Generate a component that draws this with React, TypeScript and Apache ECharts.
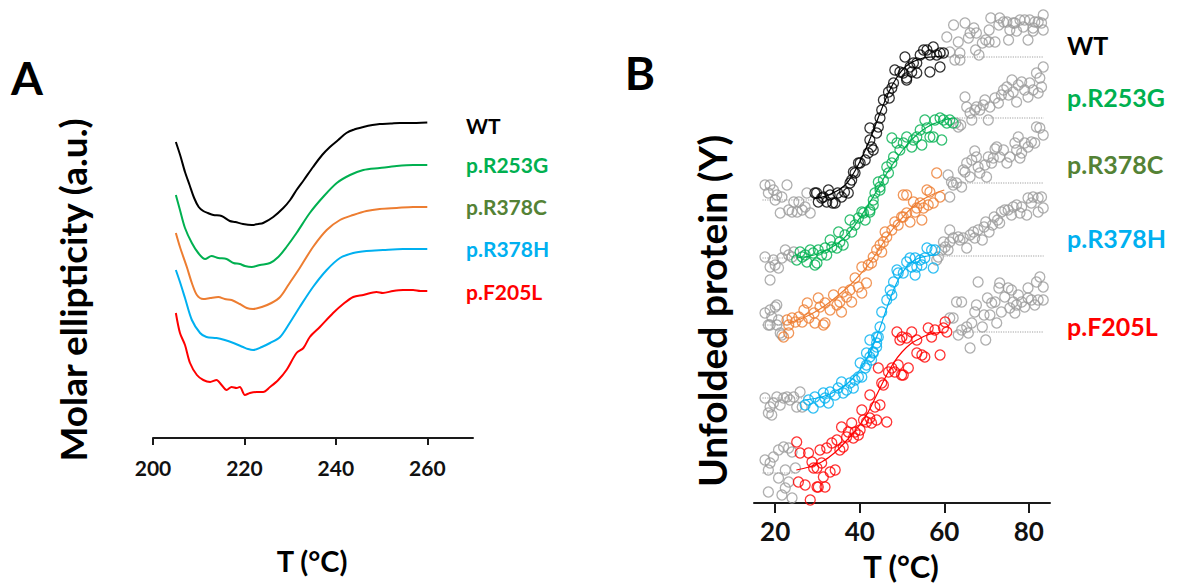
import React, { useEffect, useRef } from "react";
import * as echarts from "echarts";

const FONT = "Lato, 'Open Sans', sans-serif";

const VARIANTS = ["WT", "p.R253G", "p.R378C", "p.R378H", "p.F205L"];
const LINE_COLORS = ["#000000", "#00B050", "#ED7D31", "#00B0F0", "#FF0000"];
const LABEL_COLORS = ["#000000", "#00B050", "#548235", "#00B0F0", "#FF0000"];
const GRAY = "#9b9b9b";

const CD_X_TICKS = [200, 220, 240, 260];
const TM_X_TICKS = [20, 40, 60, 80];

// ---------- Panel A: CD spectra (wavelength, molar ellipticity a.u., offset per variant)
const cdWT = [[205,29.6],[206,28.2],[207,26.6],[208,25.3],[209,24.0],[210,23.1],[211,22.7],[212,22.5],[213.2,22.3],[215,22.2],[216.8,21.7],[218,21.6],[219.7,21.4],[221.6,21.3],[223,21.4],[224.1,21.5],[226.3,22.1],[228.5,23.0],[230,23.8],[231.4,24.8],[233,25.8],[235,27.1],[237,28.3],[238.7,29.1],[240.5,29.8],[242.3,30.5],[244,30.85],[246,31.1],[248,31.3],[249.6,31.4],[252,31.45],[254,31.5],[256,31.5],[260,31.55]];
const cdR253G = [[205,24.3],[205.9,22.8],[207,21.0],[208.5,19.5],[209.9,18.5],[211.4,17.9],[212.8,18.2],[214.3,18.0],[216.1,17.9],[217.6,17.5],[219,17.4],[220.1,17.2],[221.6,17.1],[223.4,17.3],[225.6,17.5],[227.4,18.1],[229.2,19.1],[231.4,20.5],[234.3,22.5],[237.2,24.1],[240.2,25.5],[243.1,26.3],[246,26.8],[249.6,27.0],[253.3,27.2],[256.9,27.3],[260,27.3]];
const cdR378C = [[205,20.5],[205.9,19.1],[207.4,17.1],[208.5,15.5],[209.6,14.3],[211,13.9],[212.5,14.0],[214.3,14.1],[215.7,13.9],[217.2,13.8],[219,13.4],[220.5,13.0],[221.9,12.9],[223.8,13.1],[225.9,13.5],[227.8,14.1],[229.6,15.3],[232.1,17.0],[235,19.1],[238,20.8],[240.9,21.8],[243.8,22.3],[246.7,22.7],[249.6,22.9],[253.3,23.0],[256.9,23.1],[260,23.1]];
const cdR378H = [[205,16.8],[205.9,15.6],[207,14.0],[208.5,11.8],[210.3,10.5],[211.7,10.1],[213.9,10.0],[215.7,9.8],[217.6,9.5],[219.7,9.1],[220.8,8.9],[221.9,8.8],[223.8,9.1],[225.6,9.5],[227.8,10.1],[229.9,11.5],[232.1,13.1],[235,15.1],[238,16.8],[240.9,18.0],[243.8,18.5],[246.7,18.7],[250.3,18.8],[254.7,18.9],[260,18.9]];
const cdF205L = [[205,12.5],[205.9,10.5],[207,9.3],[208.1,7.5],[209.6,6.3],[211,5.8],[212.5,5.6],[213.9,5.8],[215,5.3],[216.1,4.8],[217.2,5.1],[218.3,5.0],[219,5.1],[220.1,4.3],[221.2,4.5],[222.7,4.6],[224.1,4.6],[225.6,5.1],[227.4,5.8],[229.2,6.8],[231.4,8.5],[232.9,9.0],[234.3,10.1],[236.5,11.1],[239.4,12.5],[241.6,13.4],[243.8,14.1],[246,14.3],[248.9,14.6],[250.3,14.5],[252.5,14.7],[254.7,14.8],[256.9,14.8],[258.5,14.7],[260,14.7]];

// ---------- Panel B: thermal unfolding (T, unfolded signal a.u., offset per variant)
const tmWT = [[29.8,31.0],[31.4,30.6],[32.6,31.3],[33.6,30.0],[34.8,31.0],[36.4,31.1],[37.7,32.0],[38.9,33.0],[40.1,34.0],[41.3,34.3],[42.0,35.0],[43.2,35.3],[42.4,36.3],[44.0,37.0],[44.8,38.5],[44.4,37.6],[45.6,40.3],[46.8,41.1],[47.6,41.5],[48.0,42.0],[48.3,43.3],[49.5,43.1],[50.3,43.0],[51.1,42.3],[51.9,43.6],[52.7,44.0],[53.5,44.0],[54.3,44.8],[55.1,45.3],[55.9,45.3],[56.6,44.8],[57.4,45.6],[58.2,44.8],[59.0,45.0],[59.8,45.0],[50.7,44.6],[56.6,43.1],[59.0,43.6],[42.4,37.5],[42.8,35.6],[39.7,34.0],[38.5,33.1],[29.4,31.0],[31.0,30.5],[33.0,30.8],[34.2,30.0],[35.7,30.6],[37.3,31.0],[38.1,32.3],[32.2,30.1],[30.2,30.1],[51.1,42.5],[52.3,43.1],[53.5,43.0],[45.2,39.3],[47.0,40.5]];
const tmWTGray = [[17.6,31.8],[18.8,31.8],[19.6,31.3],[18.4,31.0],[20.4,30.8],[21.6,30.6],[22.8,31.8],[21.2,29.0],[23.2,29.3],[24.0,29.1],[25.2,29.1],[26.4,29.3],[27.1,29.6],[27.5,31.0],[28.3,29.0],[25.6,30.1],[24.4,30.1],[20.0,30.3],[60.6,46.6],[62.2,47.8],[63.3,46.1],[62.5,44.3],[63.7,44.3],[64.9,48.0],[66.1,47.0],[65.7,46.5],[67.0,47.5],[67.4,45.3],[68.2,44.8],[69.0,46.0],[69.8,46.3],[70.6,47.3],[70.6,46.1],[71.0,48.5],[72.0,46.1],[72.9,47.8],[73.1,48.5],[74.0,48.1],[74.8,48.1],[75.2,46.3],[75.5,47.3],[76.7,48.0],[77.1,47.2],[77.9,48.3],[78.7,47.6],[79.0,48.3],[79.8,46.3],[80.2,48.3],[81.0,47.5],[81.4,48.1],[82.2,48.1],[83.0,48.0],[83.4,48.8],[83.4,47.3],[81.0,47.2],[63.7,45.0],[61.3,45.1],[67.6,47.0],[76.3,48.0]];
const tmWTFit = [[29,30.4],[32,30.7],[35,31.3],[37,32.0],[39,33.3],[41,35.0],[43,37.0],[45,39.2],[47,41.2],[49,42.7],[51,43.7],[53,44.2],[55,44.5],[57,44.6],[60,44.7]];

const tmR253G = [[25.1,24.3],[25.9,25.1],[27.1,24.8],[27.5,24.1],[28.3,25.3],[29.4,23.8],[29.0,25.0],[30.2,25.3],[31.0,24.8],[31.8,25.5],[32.2,24.8],[33.0,26.3],[33.4,25.6],[34.6,25.5],[35.0,27.1],[35.3,26.1],[36.1,25.8],[36.5,26.8],[37.7,28.3],[38.1,27.1],[38.9,27.8],[39.7,28.5],[40.5,29.1],[41.3,28.3],[42.4,29.1],[43.2,29.8],[43.6,31.0],[44.8,31.6],[45.6,32.3],[46.8,33.0],[43.2,30.3],[44.4,32.1],[44.8,31.3],[46.4,33.6],[47.6,34.0],[48.0,34.6],[47.6,36.5],[48.8,36.0],[49.5,35.3],[50.3,36.0],[51.1,36.6],[52.3,35.6],[52.7,36.3],[53.5,36.6],[54.7,35.8],[54.3,37.3],[55.4,38.3],[55.9,37.5],[56.6,36.6],[57.4,36.6],[57.8,38.3],[59.0,38.5],[59.8,38.3],[60.6,38.0],[61.3,38.3],[62.1,38.0],[59.4,36.3],[40.9,29.0],[42.4,29.3],[26.4,24.6],[29.9,24.0]];
const tmR253GGray = [[17.6,24.6],[18.8,23.6],[20.0,23.8],[20.8,23.5],[19.6,24.3],[21.6,24.5],[22.4,25.3],[23.2,24.8],[24.0,24.6],[24.4,25.1],[18.8,22.3],[63.9,37.8],[63.3,37.6],[64.9,40.6],[65.3,39.6],[66.5,38.3],[66.1,39.0],[67.2,39.3],[68.4,39.3],[69.2,39.8],[69.6,40.3],[70.4,38.3],[70.8,39.6],[72.0,40.5],[72.8,40.0],[73.5,40.8],[74.0,41.3],[74.8,41.6],[75.2,40.8],[76.0,42.3],[76.3,41.1],[77.1,40.1],[77.5,41.8],[78.3,42.1],[79.0,41.3],[79.8,40.6],[80.2,42.0],[81.0,41.3],[81.8,43.0],[82.6,42.5],[83.0,41.6],[83.4,43.6],[82.2,41.0],[67.6,39.6],[62.7,38.0]];
const tmR253GFit = [[25,24.5],[30,24.9],[35,26.0],[38,27.3],[40,28.5],[42,29.8],[44,31.2],[46,32.7],[48,34.0],[50,35.2],[52,36.2],[54,37.0],[56,37.6],[58,38.0],[60,38.3],[62,38.5]];

const tmR378C = [[22.8,18.3],[23.2,17.8],[24.0,18.5],[24.8,18.1],[25.6,18.6],[26.4,18.1],[26.8,19.3],[27.6,20.0],[28.0,18.5],[29.2,19.0],[29.4,18.0],[30.2,20.5],[30.6,19.6],[31.8,20.0],[31.8,18.0],[33.0,19.3],[33.8,20.8],[34.6,19.8],[35.3,20.1],[35.7,19.1],[36.1,21.1],[36.9,20.6],[37.7,21.3],[38.1,20.1],[38.9,22.5],[39.7,21.6],[40.5,21.0],[40.5,23.6],[41.6,22.0],[42.0,23.8],[42.8,24.0],[43.2,24.6],[44.0,25.3],[45.2,25.1],[44.8,25.8],[45.6,26.1],[46.0,27.1],[46.4,26.6],[47.6,27.3],[48.3,28.1],[49.1,27.8],[49.9,28.6],[50.3,30.8],[23.2,17.0],[22.0,16.6],[31.4,17.8],[51.1,30.8],[52.7,30.1],[54.3,30.0],[55.9,31.3],[56.6,31.1],[56.2,29.8],[57.4,30.0],[59.0,30.6],[58.2,33.0],[50.3,28.6],[51.9,28.1],[53.1,29.1],[54.7,28.3],[55.1,29.5],[51.1,29.0],[53.5,29.5]];
const tmR378CGray = [[17.6,19.0],[18.8,19.3],[20.0,19.6],[19.2,18.6],[18.8,17.8],[20.4,17.8],[20.8,18.3],[21.2,17.0],[20.4,19.8],[18.4,17.8],[21.6,16.8],[60.9,32.8],[61.7,32.1],[61.3,30.6],[62.1,31.8],[62.9,32.0],[64.1,31.6],[64.9,33.1],[66.1,32.6],[68.4,33.0],[70.0,32.6],[64.5,33.3],[65.3,34.0],[66.5,34.3],[67.6,34.6],[68.0,33.6],[69.6,33.8],[70.4,34.6],[71.6,34.5],[71.2,34.0],[72.4,35.6],[73.1,34.6],[74.0,35.3],[74.8,34.0],[75.5,34.6],[76.7,36.0],[77.1,35.3],[77.5,36.6],[78.3,35.0],[79.0,36.0],[79.8,35.6],[80.6,36.1],[81.4,36.0],[81.8,37.6],[82.6,37.5],[83.4,36.8],[77.9,34.5],[67.2,35.2],[72.0,35.4]];
const tmR378CFit = [[23,18.0],[26,18.4],[29,19.0],[32,19.8],[35,20.8],[38,21.9],[40,22.8],[42,23.8],[44,25.0],[46,26.3],[48,27.5],[50,28.5],[52,29.4],[54,30.1],[56,30.6],[58,31.0],[60,31.3]];

const tmR378H = [[27.1,9.8],[27.9,10.3],[29.0,9.5],[29.4,10.6],[30.6,10.1],[31.4,11.0],[31.8,10.5],[32.6,10.0],[33.0,11.1],[34.2,10.8],[34.9,11.5],[35.7,12.1],[36.1,11.0],[36.9,11.3],[37.7,12.0],[38.5,11.5],[38.9,12.3],[39.7,12.6],[40.5,12.6],[40.1,14.0],[41.3,13.5],[41.6,13.8],[42.4,14.6],[42.8,14.3],[43.2,15.1],[44.0,16.0],[44.4,16.6],[50.3,23.0],[51.1,24.1],[51.9,24.5],[52.3,23.6],[53.1,24.5],[53.5,23.6],[54.3,24.3],[54.7,23.8],[55.4,24.5],[55.9,25.5],[57.0,25.3],[57.4,23.5],[53.1,22.8],[57.8,25.3],[41.6,15.0],[42.4,16.3],[44.0,16.6],[44.8,17.6],[45.2,19.1],[46.4,20.3],[47.2,21.3],[48.0,22.1],[49.1,23.0],[48.8,23.3],[47.6,20.8],[44.0,15.6],[43.2,15.0]];
const tmR378HGray = [[17.6,10.5],[18.8,9.6],[18.4,9.0],[19.6,10.0],[20.4,10.6],[21.2,9.8],[22.0,10.5],[22.8,10.6],[23.5,10.3],[24.4,10.6],[25.1,9.6],[25.9,11.1],[19.2,8.8],[26.4,9.6],[58.6,24.6],[58.2,24.3],[59.4,25.3],[59.8,26.1],[60.9,25.3],[61.3,26.1],[61.3,27.3],[62.1,26.5],[63.3,26.6],[63.7,26.3],[64.5,26.5],[65.3,25.5],[66.1,26.8],[66.9,27.1],[67.2,26.5],[68.0,27.3],[69.0,26.3],[69.4,27.6],[69.8,28.1],[70.6,27.1],[71.4,27.8],[71.8,28.6],[72.6,28.3],[73.1,28.0],[73.5,29.1],[74.3,29.3],[75.1,29.3],[75.9,28.8],[76.3,29.6],[77.1,29.8],[77.9,29.0],[78.3,29.6],[79.5,28.8],[79.8,30.5],[80.6,30.0],[81.0,30.6],[82.2,30.5],[82.2,29.1],[83.0,30.6],[83.4,29.5],[60.2,25.6]];
const tmR378HFit = [[27,10.3],[30,10.5],[33,10.9],[36,11.6],[38,12.3],[40,13.3],[42,14.7],[44,16.6],[46,19.0],[48,21.3],[50,23.0],[52,24.0],[54,24.5],[56,24.7],[58,24.8]];

const tmF205L = [[25.1,6.1],[25.9,5.0],[25.5,2.1],[27.1,1.8],[27.9,5.0],[28.7,4.1],[29.1,3.5],[29.9,1.6],[29.9,3.5],[30.6,5.3],[31.0,4.0],[31.4,2.6],[31.8,1.6],[32.2,5.5],[33.0,3.1],[33.4,6.0],[34.2,3.3],[34.6,6.3],[35.3,5.3],[35.7,7.6],[36.1,5.6],[36.9,6.6],[37.3,7.1],[38.1,8.0],[38.5,6.5],[38.9,7.1],[39.7,6.8],[40.1,7.3],[40.5,9.3],[40.9,8.3],[41.6,8.1],[42.4,8.5],[42.4,10.8],[42.8,8.0],[43.6,9.6],[44.0,8.3],[44.8,9.8],[44.4,13.5],[45.2,12.0],[45.6,11.8],[46.4,8.1],[46.8,13.1],[47.6,13.5],[48.3,13.1],[49.1,13.8],[49.9,12.8],[49.5,16.3],[28.3,0.3],[48.8,17.1],[50.0,16.6],[51.1,16.5],[52.3,17.1],[53.5,16.3],[54.7,14.8],[55.4,14.6],[56.2,17.5],[57.0,16.6],[57.8,17.3],[59.0,14.8],[59.8,17.5],[60.2,18.1],[60.6,17.1],[51.5,13.5],[50.3,12.8],[53.5,15.0],[30.2,1.6]];
const tmF205LGray = [[17.6,4.3],[18.8,4.0],[18.4,3.3],[19.6,4.6],[20.8,5.3],[22.0,5.6],[23.2,5.5],[24.0,5.1],[22.4,3.3],[20.8,2.5],[24.8,3.5],[23.2,2.1],[22.4,1.5],[21.6,0.8],[18.4,1.1],[24.0,0.5],[61.3,18.5],[62.1,18.5],[62.9,20.1],[64.1,20.1],[63.3,16.8],[64.1,17.3],[65.3,17.6],[66.1,15.5],[65.7,17.0],[66.5,18.0],[67.2,19.1],[67.6,19.8],[68.0,22.1],[69.0,17.6],[69.4,18.8],[69.8,16.3],[70.2,20.5],[70.8,18.8],[71.2,20.0],[72.0,20.1],[72.4,18.0],[72.9,21.5],[73.1,22.0],[73.5,19.1],[74.3,20.6],[75.1,21.5],[75.5,19.5],[75.9,21.3],[76.3,20.1],[76.7,19.0],[77.1,19.8],[77.5,20.8],[78.3,20.1],[79.0,19.6],[79.8,21.5],[79.8,20.5],[80.6,20.3],[81.4,19.8],[81.8,22.1],[82.6,22.6],[82.2,20.3],[83.4,21.6],[83.4,20.3]];
const tmF205LFit = [[25,3.3],[28,3.6],[31,4.1],[34,5.0],[37,6.3],[40,7.8],[42,9.1],[44,10.8],[46,12.5],[48,14.0],[50,15.1],[52,15.9],[54,16.4],[56,16.8],[58,17.0],[60,17.1]];

// baselines (folded / unfolded levels) and their extents
const tmLowerLevel = [30.3, 24.5, 17.8, 10.5, 3.0];
const tmUpperLevel = [44.6, 38.5, 32.0, 24.7, 17.1];
const tmLowerRange = [[17, 29], [17, 25], [17, 23], [17, 27], [17, 25]];
const tmUpperRange = [[62, 83.5], [63, 83.5], [62, 83.5], [60, 83.5], [62, 83.5]];

const cdSets = [cdWT, cdR253G, cdR378C, cdR378H, cdF205L];
const tmSets = [tmWT, tmR253G, tmR378C, tmR378H, tmF205L];
const tmGraySets = [tmWTGray, tmR253GGray, tmR378CGray, tmR378HGray, tmF205LGray];
const tmFitSets = [tmWTFit, tmR253GFit, tmR378CFit, tmR378HFit, tmF205LFit];

function text(t: string, x: number, y: number, size: number, color = "#000", extra: any = {}) {
  return {
    type: "text",
    x,
    y,
    silent: true,
    ...extra,
    style: {
      text: t,
      x: 0,
      y: 0,
      fill: color,
      font: `bold ${size}px ${FONT}`,
      textAlign: extra.align || "left",
      textVerticalAlign: "middle",
      align: extra.align || "left",
      verticalAlign: "middle",
    },
  };
}

export default function App() {
  const ref = useRef<HTMLDivElement>(null);
  useEffect(() => {
    if (!ref.current) return;
    const chart = echarts.init(ref.current, null, { renderer: "svg" });

    const series: any[] = [];
    cdSets.forEach((d, i) => {
      series.push({
        type: "line",
        name: VARIANTS[i] + " CD",
        xAxisIndex: 0,
        yAxisIndex: 0,
        data: d,
        showSymbol: false,
        smooth: 0.3,
        lineStyle: { color: LINE_COLORS[i], width: 2 },
      });
    });
    tmGraySets.forEach((d, i) => {
      series.push({
        type: "scatter",
        name: VARIANTS[i] + " outside fit",
        xAxisIndex: 1,
        yAxisIndex: 1,
        data: d,
        symbol: "circle",
        symbolSize: 10,
        itemStyle: { color: "rgba(0,0,0,0)", borderColor: GRAY, borderWidth: 1.3 },
      });
      const lo = tmLowerRange[i];
      const hi = tmUpperRange[i];
      series.push({
        type: "line",
        xAxisIndex: 1,
        yAxisIndex: 1,
        data: [[lo[0], tmLowerLevel[i]], [lo[1], tmLowerLevel[i]]],
        showSymbol: false,
        lineStyle: { color: "#a0a0a0", width: 1.2, type: "dotted" },
      });
      series.push({
        type: "line",
        xAxisIndex: 1,
        yAxisIndex: 1,
        data: [[hi[0], tmUpperLevel[i]], [hi[1], tmUpperLevel[i]]],
        showSymbol: false,
        lineStyle: { color: "#a0a0a0", width: 1.2, type: "dotted" },
      });
    });
    tmSets.forEach((d, i) => {
      series.push({
        type: "scatter",
        name: VARIANTS[i],
        xAxisIndex: 1,
        yAxisIndex: 1,
        data: d,
        symbol: "circle",
        symbolSize: 10,
        itemStyle: { color: "rgba(0,0,0,0)", borderColor: LINE_COLORS[i], borderWidth: 1.3 },
      });
      series.push({
        type: "line",
        name: VARIANTS[i] + " fit",
        xAxisIndex: 1,
        yAxisIndex: 1,
        data: tmFitSets[i],
        showSymbol: false,
        smooth: 0.4,
        lineStyle: { color: LINE_COLORS[i], width: 1.2 },
      });
    });

    const axisCommon = {
      type: "value",
      axisLine: { show: true, lineStyle: { color: "#1a1a1a", width: 2 } },
      axisTick: { show: true, inside: false, lineStyle: { color: "#1a1a1a", width: 2 } },
      splitLine: { show: false },
    };

    const graphics: any[] = [
      text("A", 27, 77, 46, "#000", { align: "center" }),
      text("B", 640, 72, 46, "#000", { align: "center" }),
      text("Molar ellipticity (a.u.)", 72, 290, 37, "#000", { align: "center", rotation: Math.PI / 2 }),
      text("Unfolded protein (Y)", 712, 311, 39, "#000", { align: "center", rotation: Math.PI / 2 }),
      text("T (°C)", 312, 560, 29, "#000", { align: "center" }),
      text("T (°C)", 901, 566, 31, "#000", { align: "center" }),
    ];
    const aY = [125, 164, 206, 248, 291];
    const bY = [45, 97, 164, 238, 326];
    VARIANTS.forEach((v, i) => {
      graphics.push(text(v, 466, aY[i], 21, LABEL_COLORS[i]));
      graphics.push(text(v, 1067, bY[i], 25, LABEL_COLORS[i]));
    });

    chart.setOption({
      animation: false,
      backgroundColor: "#ffffff",
      grid: [
        { left: 153, top: 98, width: 320, height: 340 },
        { left: 754, top: 3, width: 296, height: 500 },
      ],
      xAxis: [
        {
          ...axisCommon,
          gridIndex: 0,
          min: 200,
          max: 270,
          interval: 20,
          axisTick: { ...axisCommon.axisTick, length: 7, customValues: CD_X_TICKS },
          axisLabel: {
            customValues: CD_X_TICKS,
            margin: 19,
            color: "#111",
            fontFamily: FONT,
            fontWeight: "bold",
            fontSize: 21,
          },
        },
        {
          ...axisCommon,
          gridIndex: 1,
          min: 15,
          max: 85,
          axisTick: { ...axisCommon.axisTick, length: 10, customValues: TM_X_TICKS },
          axisLabel: {
            customValues: TM_X_TICKS,
            margin: 15,
            color: "#111",
            fontFamily: FONT,
            fontWeight: "bold",
            fontSize: 26,
          },
        },
      ],
      yAxis: [
        { type: "value", gridIndex: 0, min: 0, max: 34, show: false },
        { type: "value", gridIndex: 1, min: 0, max: 50, show: false },
      ],
      series,
      graphic: graphics,
    });
    return () => chart.dispose();
  }, []);
  return (
    <div
      ref={ref}
      style={{ position: "fixed", left: 0, top: 0, width: 1180, height: 584, background: "#fff" }}
    />
  );
}
